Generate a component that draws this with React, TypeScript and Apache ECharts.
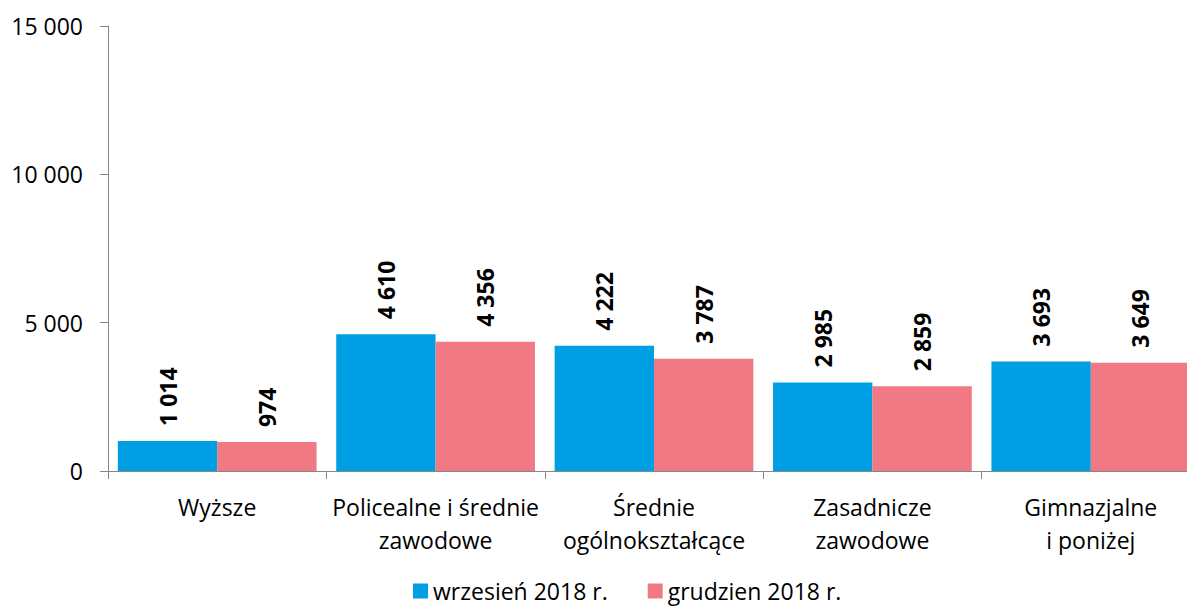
import React, { useEffect, useRef } from "react";
import * as echarts from "echarts";

const categories = [
  "Wyższe",
  "Policealne i średnie\nzawodowe",
  "Średnie\nogólnokształcące",
  "Zasadnicze\nzawodowe",
  "Gimnazjalne\ni poniżej",
];
const seriesNames = ["wrzesień 2018 r.", "grudzien 2018 r."];
const september = [1014, 4610, 4222, 2985, 3693];
const december = [974, 4356, 3787, 2859, 3649];
const yTicks = { min: 0, max: 15000, interval: 5000 };

const fmt = (v: number) => String(v).replace(/\B(?=(\d{3})+(?!\d))/g, " ");
const FONT = "'Open Sans', Lato, sans-serif";

export default function App() {
  const ref = useRef<HTMLDivElement>(null);
  useEffect(() => {
    if (!ref.current) return;
    const chart = echarts.init(ref.current, null, { renderer: "svg" });
    const label = {
      show: true,
      position: "top" as const,
      rotate: 90,
      align: "left" as const,
      verticalAlign: "middle" as const,
      distance: 15,
      fontFamily: FONT,
      fontWeight: "bold" as const,
      fontSize: 23,
      color: "#000",
      formatter: (p: any) => fmt(p.value),
    };
    chart.setOption({
      animation: false,
      textStyle: { fontFamily: FONT },
      grid: { left: 108, top: 26, width: 1092, height: 445, containLabel: false },
      legend: {
        left: 413,
        top: 578,
        padding: 0,
        itemWidth: 15,
        itemHeight: 15,
        itemGap: 40,
        icon: "rect",
        textStyle: { fontFamily: FONT, fontSize: 23, lineHeight: 26, color: "#000" },
        data: seriesNames,
      },
      xAxis: {
        type: "category",
        data: categories,
        axisLine: { lineStyle: { color: "#868686" } },
        axisTick: { show: true, length: 8, lineStyle: { color: "#868686" } },
        axisLabel: {
          fontFamily: FONT,
          fontSize: 23,
          color: "#000",
          margin: 19,
          lineHeight: 33,
          interval: 0,
        },
      },
      yAxis: {
        type: "value",
        min: yTicks.min,
        max: yTicks.max,
        interval: yTicks.interval,
        splitLine: { show: false },
        axisLine: { show: true, lineStyle: { color: "#868686" } },
        axisTick: { show: true, length: 8, lineStyle: { color: "#868686" } },
        axisLabel: {
          fontFamily: FONT,
          fontSize: 23,
          color: "#000",
          margin: 25,
          formatter: (v: number) => fmt(v),
        },
      },
      series: [
        {
          name: seriesNames[0],
          type: "bar",
          data: september,
          barGap: "0%",
          barCategoryGap: "9%",
          itemStyle: { color: "#009FE3" },
          label,
        },
        {
          name: seriesNames[1],
          type: "bar",
          data: december,
          itemStyle: { color: "#F07984" },
          label,
        },
      ],
    });
    return () => chart.dispose();
  }, []);
  return (
    <div style={{ position: "absolute", left: 0, top: 0, width: 1187, height: 608, overflow: "hidden" }}>
      <div ref={ref} style={{ width: 1200, height: 608 }} />
    </div>
  );
}
